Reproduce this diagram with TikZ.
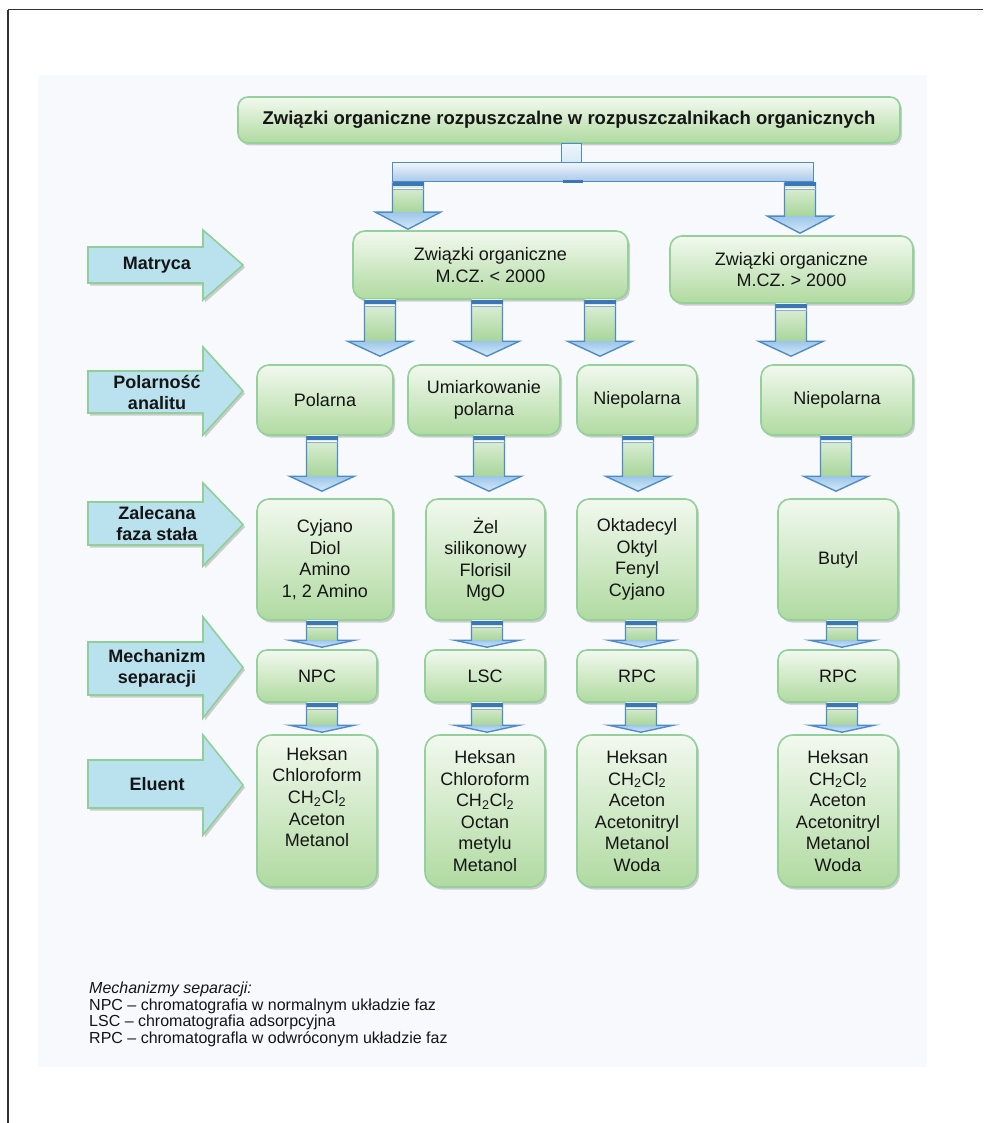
\documentclass[tikz,border=0pt]{standalone}
\usepackage{fontspec}
\setmainfont{Liberation Sans}
\usetikzlibrary{shadows,calc}

\definecolor{txt}{HTML}{151515}
\definecolor{boxtop}{HTML}{F2F9EF}
\definecolor{boxbot}{HTML}{B0DAA0}
\definecolor{boxline}{HTML}{94D09A}
\definecolor{lblfill}{HTML}{BAE2EE}
\definecolor{lblline}{HTML}{90CF98}
\definecolor{arrline}{HTML}{4F8BC9}
\definecolor{band}{HTML}{3A76B8}
\definecolor{shafttop}{HTML}{E2F1DC}
\definecolor{shaftbot}{HTML}{A8D59A}
\definecolor{headtop}{HTML}{9CC6E8}
\definecolor{headbot}{HTML}{D5E9F7}
\definecolor{bartop}{HTML}{EEF5FC}
\definecolor{barbot}{HTML}{A7C8E8}
\definecolor{panel}{HTML}{F7F9FC}
\definecolor{framec}{HTML}{333333}

\tikzset{
  myshadow/.style={drop shadow={shadow xshift=2pt, shadow yshift=-2.5pt, opacity=0.3, fill=black!60}},
  box/.style={draw=boxline, line width=1.6pt, rounded corners=12pt, top color=boxtop, bottom color=boxbot,
    inner sep=0pt, align=center, text=txt, font=\fontsize{18}{21.6}\selectfont, myshadow},
  lbl/.style={draw=lblline, line width=1.6pt, fill=lblfill, line join=miter, myshadow},
  lbltext/.style={align=center, text=txt, inner sep=0pt, font=\bfseries\fontsize{18}{21}\selectfont},
  legtext/.style={anchor=base west, inner sep=0pt, text=txt, font=\fontsize{16}{17}\selectfont},
  arrowedge/.style={draw=arrline, line width=1.4pt, line join=miter}
}

\newcommand\blockarrow[5]{%
  \coordinate (bt) at (#1,0 |- #2.south);
  \coordinate (bb) at (#1,0 |- #3.north);
  \shade[top color=shafttop, bottom color=shaftbot] ([xshift=-15.5pt]bt) rectangle ([xshift=15.5pt,yshift=#4pt+#5pt]bb);
  \shade[top color=headtop, bottom color=headbot] ([xshift=-32.5pt,yshift=#4pt+#5pt]bb) -- ([yshift=#5pt]bb) -- ([xshift=32.5pt,yshift=#4pt+#5pt]bb) -- cycle;
  \draw[arrowedge] ([xshift=-15.5pt]bt) -- ([xshift=-15.5pt,yshift=#4pt+#5pt]bb) -- ([xshift=-32.5pt,yshift=#4pt+#5pt]bb) -- ([yshift=#5pt]bb) -- ([xshift=32.5pt,yshift=#4pt+#5pt]bb) -- ([xshift=15.5pt,yshift=#4pt+#5pt]bb) -- ([xshift=15.5pt]bt);
  \fill[band] ([xshift=-15.5pt]bt) rectangle ([xshift=15.5pt,yshift=-4pt]bt);
  \draw[white, line width=0.8pt] ([xshift=-15pt,yshift=-5.5pt]bt) -- ([xshift=15pt,yshift=-5.5pt]bt);
  \draw[band!60, line width=0.8pt] ([xshift=-15.5pt,yshift=-7pt]bt) -- ([xshift=15.5pt,yshift=-7pt]bt);
}

\newcommand\lblarrow[6]{%
  \draw[lbl] (88,#3) -- (203,#3) -- (203,#2) -- (243,{(#2+#5)/2}) -- (203,#5) -- (203,#4) -- (88,#4) -- cycle;
  \node[lbltext] (#1) at (157,{(#3+#4)/2}) {#6};
}

\begin{document}
\begin{tikzpicture}[x=1pt,y=-1pt]
\useasboundingbox (0,0) rectangle (983,1123);
\fill[white] (0,0) rectangle (983,1123);
\fill[panel] (38,75) rectangle (927,1067);
\draw[framec, line width=1pt] (8,10) -- (983,10);
\draw[framec, line width=1.6pt] (8,10) -- (8,1123);

% title
\node[box, rounded corners=10pt, minimum width=662pt, minimum height=46pt, font=\bfseries\fontsize{18.5}{22}\selectfont] (T) at (569,120)
  {Związki organiczne rozpuszczalne w rozpuszczalnikach organicznych};

% stem and bar
\node[draw=arrline, line width=1pt, top color=bartop, bottom color=headbot, minimum width=20pt, minimum height=20pt, inner sep=0pt] (stem) at (571,153.5) {};
\node[draw=arrline, line width=1pt, top color=bartop, bottom color=barbot, minimum width=421pt, minimum height=19pt, inner sep=0pt] (bar) at (602.5,172.5) {};
\fill[band] (563,180.5) rectangle (583,183);

% level 1
\node[box, minimum width=275pt, minimum height=68pt] (A) at (490.5,265) {Związki organiczne\\M.CZ. < 2000};
\node[box, minimum width=243pt, minimum height=67pt] (B) at (791.5,269.5) {Związki organiczne\\M.CZ. > 2000};

% level 2
\node[box, minimum width=136pt, minimum height=70pt] (P1) at (325,400) {Polarna};
\node[box, minimum width=152pt, minimum height=70pt] (P2) at (484,400) {Umiarkowanie\\polarna};
\node[box, minimum width=120pt, minimum height=70pt] (P3) at (637,400) {Niepolarna};
\node[box, minimum width=152pt, minimum height=70pt] (P4) at (837,400) {Niepolarna};

% level 3
\node[box, minimum width=136pt, minimum height=121pt] (S1) at (325,559.5) {Cyjano\\Diol\\Amino\\1, 2 Amino};
\node[box, minimum width=119pt, minimum height=121pt] (S2) at (485.5,559.5) {Żel\\silikonowy\\Florisil\\MgO};
\node[box, minimum width=120pt, minimum height=121pt] (S3) at (637,559.5) {Oktadecyl\\Oktyl\\Fenyl\\Cyjano};
\node[box, minimum width=120pt, minimum height=121pt] (S4) at (838,559.5) {Butyl};

% level 4
\node[box, rounded corners=10pt, minimum width=120pt, minimum height=52pt] (M1) at (317,676) {NPC};
\node[box, rounded corners=10pt, minimum width=120pt, minimum height=52pt] (M2) at (485,676) {LSC};
\node[box, rounded corners=10pt, minimum width=120pt, minimum height=52pt] (M3) at (637,676) {RPC};
\node[box, rounded corners=10pt, minimum width=120pt, minimum height=52pt] (M4) at (838,676) {RPC};

% level 5
\node[box, rounded corners=15pt, minimum width=120pt, minimum height=152pt] (E1) at (317,811) {Heksan\\Chloroform\\CH\textsubscript{2}Cl\textsubscript{2}\\Aceton\\Metanol\\\strut};
\node[box, rounded corners=15pt, minimum width=120pt, minimum height=152pt] (E2) at (485,811) {Heksan\\Chloroform\\CH\textsubscript{2}Cl\textsubscript{2}\\Octan\\metylu\\Metanol};
\node[box, rounded corners=15pt, minimum width=120pt, minimum height=152pt] (E3) at (637,811) {Heksan\\CH\textsubscript{2}Cl\textsubscript{2}\\Aceton\\Acetonitryl\\Metanol\\Woda};
\node[box, rounded corners=15pt, minimum width=120pt, minimum height=152pt] (E4) at (838,811) {Heksan\\CH\textsubscript{2}Cl\textsubscript{2}\\Aceton\\Acetonitryl\\Metanol\\Woda};

% block arrows
\blockarrow{408}{bar}{A}{17}{1}
\blockarrow{800}{bar}{B}{17}{2}
\blockarrow{380}{A}{P1}{15}{8}
\blockarrow{487}{A}{P2}{15}{8}
\blockarrow{600}{A}{P3}{15}{8}
\blockarrow{791}{B}{P4}{15}{8}
\blockarrow{322}{P1}{S1}{15}{7}
\blockarrow{489}{P2}{S2}{15}{7}
\blockarrow{638}{P3}{S3}{15}{7}
\blockarrow{836}{P4}{S4}{15}{7}
\blockarrow{322}{S1}{M1}{7}{2}
\blockarrow{487}{S2}{M2}{7}{2}
\blockarrow{641}{S3}{M3}{7}{2}
\blockarrow{842}{S4}{M4}{7}{2}
\blockarrow{322}{M1}{E1}{7}{2}
\blockarrow{487}{M2}{E2}{7}{2}
\blockarrow{641}{M3}{E3}{7}{2}
\blockarrow{842}{M4}{E4}{7}{2}

% left labels
\lblarrow{L1}{230}{247}{283}{300}{Matryca}
\lblarrow{L2}{347}{371}{413}{435}{Polarność\\analitu}
\lblarrow{L3}{483}{502}{545}{566}{Zalecana\\faza stała}
\lblarrow{L4}{617}{642}{695}{718}{Mechanizm\\separacji}
\lblarrow{L5}{735}{760}{808}{835}{Eluent}

% legend
\node[legtext, font=\itshape\fontsize{16}{17}\selectfont] (g0) at (89,993) {Mechanizmy separacji:};
\node[legtext] (g1) at (89,1010) {NPC – chromatografia w normalnym układzie faz};
\node[legtext] (g2) at (89,1026) {LSC – chromatografia adsorpcyjna};
\node[legtext] (g3) at (89,1043) {RPC – chromatografla w odwróconym układzie faz};
\end{tikzpicture}
\end{document}
